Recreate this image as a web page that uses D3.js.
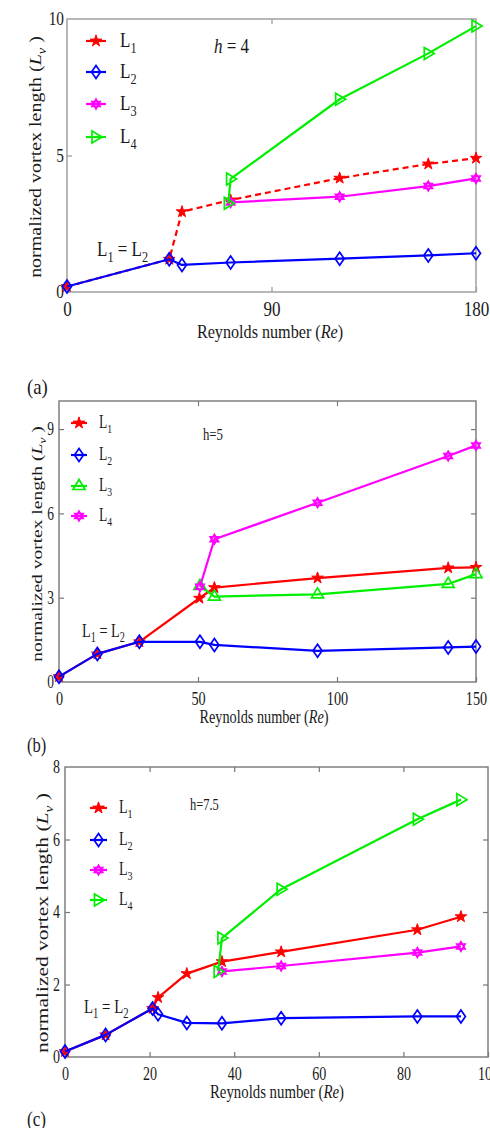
<!DOCTYPE html>
<html><head><meta charset="utf-8">
<script src="https://cdn.jsdelivr.net/npm/d3@7"></script>
<style>
body{margin:0;background:#fff}
svg{display:block}
text{font-family:"Liberation Serif","Times New Roman",serif;fill:#1a1a1a}
</style>
</head><body>
<svg id="fig" width="490" height="1128"></svg>
<script>
// ---------- (a) h = 4 ----------
const reA_L1 = [0, 45, 50.6, 72, 120, 159, 180];
const lvA_L1 = [0.2, 1.2, 2.94, 3.37, 4.17, 4.69, 4.9];
const reA_L2 = [0, 45, 50.6, 72, 120, 159, 180];
const lvA_L2 = [0.2, 1.2, 0.99, 1.08, 1.22, 1.34, 1.42];
const reA_L3 = [72, 120, 159, 180];
const lvA_L3 = [3.28, 3.49, 3.88, 4.16];
const reA_L4 = [71, 72, 120, 159, 180];
const lvA_L4 = [3.25, 4.14, 7.06, 8.74, 9.74];
const xTicksA = [0, 90, 180];
const yTicksA = [0, 5, 10];

// ---------- (b) h = 5 ----------
const reB_L1 = [0, 13.8, 28.9, 50.5, 55.9, 93, 140, 150];
const lvB_L1 = [0.19, 1.0, 1.43, 2.98, 3.36, 3.7, 4.06, 4.08];
const reB_L2 = [0, 13.8, 28.9, 50.7, 55.9, 93, 140, 150];
const lvB_L2 = [0.19, 1.0, 1.43, 1.43, 1.32, 1.11, 1.23, 1.26];
const reB_L3 = [50.7, 55.9, 93, 140, 150];
const lvB_L3 = [3.42, 3.04, 3.12, 3.49, 3.84];
const reB_L4 = [50.7, 55.9, 93, 140, 150];
const lvB_L4 = [3.39, 5.08, 6.38, 8.04, 8.42];
const xTicksB = [0, 50, 100, 150];
const yTicksB = [0, 3, 6, 9];

// ---------- (c) h = 7.5 ----------
const reC_L1 = [0, 9.6, 20.7, 22, 28.8, 37.1, 51.1, 83.3, 93.6];
const lvC_L1 = [0.15, 0.61, 1.34, 1.64, 2.3, 2.63, 2.9, 3.51, 3.87];
const reC_L2 = [0, 9.6, 20.7, 22, 28.8, 37.1, 51.1, 83.3, 93.6];
const lvC_L2 = [0.15, 0.61, 1.34, 1.18, 0.94, 0.93, 1.07, 1.12, 1.12];
const reC_L3 = [37.1, 51.1, 83.3, 93.6];
const lvC_L3 = [2.36, 2.51, 2.88, 3.05];
const reC_L4 = [36.2, 37.1, 51.1, 83.3, 93.6];
const lvC_L4 = [2.36, 3.28, 4.63, 6.56, 7.1];
const xTicksC = [0, 20, 40, 60, 80, 100];
const yTicksC = [0, 2, 4, 6, 8];

const RED = '#ff0000', BLUE = '#0000ff', MAG = '#ff00ff', GRN = '#00ee00';
const svg = d3.select('#fig');

// marker outlines, centred on the data point
function markerPath(kind) {
  switch (kind) {
    case 'star': return d3.symbol(d3.symbolStar, 42)();
    case 'diamond': return 'M0,-6.5L4.5,0L0,6.5L-4.5,0Z';
    case 'triRight': return 'M-4,-6L6,0L-4,6Z';
    case 'triUp': return 'M0,-6.5L6,3.5L-6,3.5Z';
    case 'hexagram': {
      const r = 4.8, p = a => [r * Math.cos(a * Math.PI / 180), r * Math.sin(a * Math.PI / 180)];
      const tri = angs => 'M' + angs.map(a => p(a).map(v => v.toFixed(2)).join(',')).join('L') + 'Z';
      return tri([-90, 30, 150]) + tri([90, 210, 330]);
    }
  }
}

// text with horizontal compression k; parts = [[str, style], ...]
function richText(g, x, y, parts, o) {
  const t = g.append('text')
    .attr('transform', o.rotate
      ? `translate(${x},${y}) scale(${o.k},1) rotate(-90)`
      : `translate(${x},${y}) scale(${o.k},1)`)
    .attr('text-anchor', o.anchor || 'start')
    .attr('font-size', o.size);
  parts.forEach(([s, st]) => {
    const ts = t.append('tspan').text(s);
    if (st && st.includes('it')) ts.attr('font-style', 'italic');
    if (st && st.includes('sub')) ts.attr('font-size', o.size * 0.72).attr('dy', o.size * 0.28);
    if (st && st.includes('back')) ts.attr('dy', -o.size * 0.28);
  });
  return t;
}

function drawPanel(p) {
  const g = svg.append('g');
  const { l, t, r, b } = p.box;
  const x = d3.scaleLinear().domain(p.xDomain).range([l, r]);
  const y = d3.scaleLinear().domain(p.yDomain).range([b, t]);

  g.append('rect').attr('x', l).attr('y', t).attr('width', r - l).attr('height', b - t)
    .attr('fill', 'none').attr('stroke', p.frame).attr('stroke-width', 1.4);

  const styleAxis = (sel) => {
    sel.attr('font-family', null).attr('font-size', null);
    sel.select('.domain').remove();
    sel.selectAll('.tick line').attr('stroke', p.frame).attr('stroke-width', 1.2);
  };
  const squishTicks = (sel, size) => {
    sel.selectAll('.tick text').each(function () {
      const tx = d3.select(this);
      const ax = +tx.attr('x') || 0;
      tx.attr('font-size', size).attr('fill', '#1a1a1a')
        .attr('transform', `translate(${ax},0) scale(${p.k},1) translate(${-ax},0)`);
    });
  };

  const gx = g.append('g').attr('transform', `translate(0,${b})`)
    .call(d3.axisBottom(x).tickValues(p.xTicks).tickSize(-5).tickPadding(p.xPad).tickFormat(d3.format('d')));
  styleAxis(gx); squishTicks(gx, p.xTickSize);
  const gt = g.append('g').attr('transform', `translate(0,${t})`)
    .call(d3.axisTop(x).tickValues(p.xTicks.filter(v => v > p.xDomain[0] && v < p.xDomain[1])).tickSize(-5).tickFormat(''));
  styleAxis(gt);
  const gy = g.append('g').attr('transform', `translate(${l},0)`)
    .call(d3.axisLeft(y).tickValues(p.yTicks).tickSize(-5).tickPadding(p.yPad).tickFormat(d3.format('d')));
  styleAxis(gy); squishTicks(gy, p.yTickSize);
  gy.selectAll('.tick line').filter(d => d === p.yDomain[0] || d === p.yDomain[1]).remove();
  if (p.rightTicks) {
    const gr = g.append('g').attr('transform', `translate(${r},0)`)
      .call(d3.axisRight(y).tickValues(p.yTicks.filter(v => v > p.yDomain[0] && v < p.yDomain[1])).tickSize(-5).tickFormat(''));
    styleAxis(gr);
  }

  // series
  const line = d3.line().x(d => x(d[0])).y(d => y(d[1]));
  p.series.forEach(s => {
    const pts = d3.zip(s.re, s.lv);
    g.append('path').attr('d', line(pts)).attr('fill', 'none')
      .attr('stroke', s.color).attr('stroke-width', 2.2)
      .attr('stroke-dasharray', s.dash || null).attr('stroke-linejoin', 'round');
    g.selectAll(null).data(pts).join('path')
      .attr('transform', d => `translate(${x(d[0])},${y(d[1])})`)
      .attr('d', markerPath(s.marker))
      .attr('fill', s.marker === 'star' ? s.color : 'none')
      .attr('stroke', s.color).attr('stroke-width', s.marker === 'star' ? 1 : 1.7);
  });

  // legend
  const L = p.legend;
  p.series.forEach((s, i) => {
    const yy = L.rows[i];
    g.append('line').attr('x1', L.x0).attr('x2', L.x1).attr('y1', yy).attr('y2', yy)
      .attr('stroke', s.color).attr('stroke-width', 2.2);
    g.append('path').attr('transform', `translate(${(L.x0 + L.x1) / 2},${yy})`)
      .attr('d', markerPath(s.marker))
      .attr('fill', s.marker === 'star' ? s.color : 'none')
      .attr('stroke', s.color).attr('stroke-width', s.marker === 'star' ? 1 : 1.7);
    richText(g, L.tx, yy + L.size * 0.3, [['L'], [s.name.slice(1), 'sub']], { k: p.k, size: L.size });
  });

  // annotations
  richText(g, p.eq.x, p.eq.y, [['L'], ['1', 'sub'], [' = L', 'back'], ['2', 'sub']], { k: p.k, size: p.eq.size });
  richText(g, p.h.x, p.h.y, p.h.parts, { k: p.k, size: p.h.size });
  richText(g, p.xl.x, p.xl.y, [['Reynolds number ('], ['Re', 'it'], [')']], { k: p.k, size: p.xl.size, anchor: 'middle' });
  richText(g, p.yl.x, p.yl.y, [['normalized vortex length ('], ['L', 'it'], ['v', 'itsub'], [' )', 'back']],
    { k: p.k, size: p.yl.size, anchor: 'middle', rotate: true });
  richText(g, p.tag.x, p.tag.y, [[p.tag.text]], { k: p.k, size: p.tag.size });
}

drawPanel({
  box: { l: 67, t: 19, r: 476, b: 292 }, k: 0.85, frame: '#9a9a9a',
  xDomain: [0, 180], yDomain: [0, 10], xTicks: xTicksA, yTicks: yTicksA,
  xPad: 10, yPad: 3, xTickSize: 20, yTickSize: 18, rightTicks: false,
  series: [
    { name: 'L1', re: reA_L1, lv: lvA_L1, color: RED, marker: 'star', dash: '6,4' },
    { name: 'L2', re: reA_L2, lv: lvA_L2, color: BLUE, marker: 'diamond' },
    { name: 'L3', re: reA_L3, lv: lvA_L3, color: MAG, marker: 'hexagram' },
    { name: 'L4', re: reA_L4, lv: lvA_L4, color: GRN, marker: 'triRight' }
  ],
  legend: { x0: 86, x1: 106, tx: 120, rows: [41, 72, 104, 137], size: 20 },
  eq: { x: 97, y: 256, size: 20 },
  h: { x: 214, y: 53, size: 20, parts: [['h', 'it'], [' = 4']] },
  xl: { x: 270, y: 338, size: 19 },
  yl: { x: 41, y: 157, size: 20 },
  tag: { x: 27, y: 394, size: 22, text: '(a)' }
});

drawPanel({
  box: { l: 59, t: 401, r: 476, b: 682 }, k: 0.75, frame: '#777',
  xDomain: [0, 150], yDomain: [0, 10], xTicks: xTicksB, yTicks: yTicksB,
  xPad: 10, yPad: 5, xTickSize: 19, yTickSize: 18, rightTicks: true,
  series: [
    { name: 'L1', re: reB_L1, lv: lvB_L1, color: RED, marker: 'star' },
    { name: 'L2', re: reB_L2, lv: lvB_L2, color: BLUE, marker: 'diamond' },
    { name: 'L3', re: reB_L3, lv: lvB_L3, color: GRN, marker: 'triUp' },
    { name: 'L4', re: reB_L4, lv: lvB_L4, color: MAG, marker: 'hexagram' }
  ],
  legend: { x0: 71, x1: 87, tx: 99, rows: [423, 455, 486, 516], size: 18 },
  eq: { x: 82, y: 637, size: 19 },
  h: { x: 203, y: 440, size: 17, parts: [['h=5']] },
  xl: { x: 264, y: 723, size: 19 },
  yl: { x: 42, y: 544, size: 19.5 },
  tag: { x: 27, y: 752, size: 22, text: '(b)' }
});

drawPanel({
  box: { l: 65, t: 767, r: 488, b: 1057 }, k: 0.78, frame: '#777',
  xDomain: [0, 100], yDomain: [0, 8], xTicks: xTicksC, yTicks: yTicksC,
  xPad: 10, yPad: 5, xTickSize: 18, yTickSize: 18, rightTicks: true,
  series: [
    { name: 'L1', re: reC_L1, lv: lvC_L1, color: RED, marker: 'star' },
    { name: 'L2', re: reC_L2, lv: lvC_L2, color: BLUE, marker: 'diamond' },
    { name: 'L3', re: reC_L3, lv: lvC_L3, color: MAG, marker: 'hexagram' },
    { name: 'L4', re: reC_L4, lv: lvC_L4, color: GRN, marker: 'triRight' }
  ],
  legend: { x0: 90, x1: 107, tx: 119, rows: [808, 840, 870, 900], size: 18 },
  eq: { x: 84, y: 1013, size: 19 },
  h: { x: 190, y: 810, size: 16, parts: [['h=7.5']] },
  xl: { x: 277, y: 1098, size: 19 },
  yl: { x: 48, y: 923, size: 21.5 },
  tag: { x: 27, y: 1126, size: 22, text: '(c)' }
});
</script>
</body></html>
